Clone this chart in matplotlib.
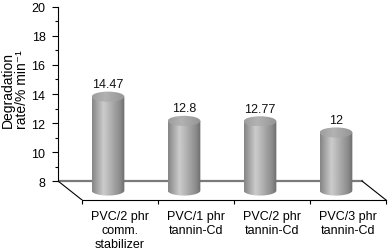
import numpy as np
import matplotlib.pyplot as plt
from matplotlib.patches import Polygon, Ellipse

plt.rcParams['font.family'] = ['Liberation Sans', 'DejaVu Sans']

categories = ['PVC/2 phr\ncomm.\nstabilizer', 'PVC/1 phr\ntannin-Cd',
              'PVC/2 phr\ntannin-Cd', 'PVC/3 phr\ntannin-Cd']
values = [14.47, 12.8, 12.77, 12]
value_labels = ['14.47', '12.8', '12.77', '12']

ymin, ymax = 8, 20
dx, dy = 0.316, 1.31      # depth offset of the floor (data units)
bar_w, ell_h = 0.43, 0.70  # cylinder width and ellipse height

fig = plt.figure(figsize=(3.88, 2.51), dpi=100)
ax = fig.add_axes([0.1495, 0.1992, 0.852, 0.7805])
ax.set_xlim(0, 4.35)
ax.set_ylim(ymin - dy, 20.2)

# floor
ax.fill([0, 4, 4 + dx, dx], [ymin, ymin, ymin - dy, ymin - dy],
        color='white', zorder=0)
ax.plot([0, 4], [ymin, ymin], color='#7a7a7a', lw=1.6, zorder=1)
ax.plot([0, dx], [ymin, ymin - dy], color='black', lw=0.8, zorder=1)
ax.plot([4, 4 + dx], [ymin, ymin - dy], color='black', lw=0.8, zorder=1)


def shade(n, stops, levels):
    s = np.linspace(0, 1, n)
    g = np.interp(s, stops, levels)
    return np.tile(g, (2, 1))


for i, v in enumerate(values):
    cx = i + 0.5 + dx / 2
    bot = ymin - dy / 2
    top = v - dy / 2
    x0, x1 = cx - bar_w / 2, cx + bar_w / 2
    t = np.linspace(np.pi, 2 * np.pi, 40)
    arc_x = cx + bar_w / 2 * np.cos(t)
    arc_y = bot + ell_h / 2 * np.sin(t)
    pts = [(x0, top)] + list(zip(arc_x, arc_y)) + [(x1, top)]
    body = Polygon(pts, closed=True, facecolor='none', edgecolor='none')
    ax.add_patch(body)
    im = ax.imshow(shade(100, [0, 0.35, 0.85, 1], [0.52, 0.80, 0.55, 0.42]),
                   cmap='gray', vmin=0, vmax=1, aspect='auto',
                   extent=[x0, x1, bot - ell_h / 2, top], zorder=3)
    im.set_clip_path(body)
    cap = Ellipse((cx, top), bar_w, ell_h, facecolor='none', edgecolor='none')
    ax.add_patch(cap)
    im2 = ax.imshow(shade(100, [0, 0.4, 1], [0.62, 0.70, 0.58]),
                    cmap='gray', vmin=0, vmax=1, aspect='auto',
                    extent=[x0, x1, top - ell_h / 2, top + ell_h / 2], zorder=4)
    im2.set_clip_path(cap)
    ax.text(cx, v + 0.22, value_labels[i], ha='center', va='center',
            fontsize=9, color='#111111', zorder=5)

ax.set_xlim(0, 4.35)
ax.set_ylim(ymin - dy, 20.2)

for s in ['top', 'right']:
    ax.spines[s].set_visible(False)
ax.spines['left'].set_bounds(ymin, ymax)
ax.spines['left'].set_linewidth(0.8)
ax.spines['bottom'].set_bounds(dx, 4 + dx)
ax.spines['bottom'].set_linewidth(0.8)

ax.set_yticks(range(8, 21, 2))
ax.set_yticks(range(9, 20, 2), minor=True)
ax.tick_params(axis='y', which='major', length=4, width=0.8, labelsize=9, pad=5)
ax.tick_params(axis='y', which='minor', length=2.5, width=0.8)

ax.set_xticks([i + 0.5 + dx for i in range(4)])
ax.set_xticklabels(categories, fontsize=9, linespacing=1.25)
ax.set_xticks([i + dx for i in range(5)], minor=True)
ax.tick_params(axis='x', which='major', length=0, pad=7)
ax.tick_params(axis='x', which='minor', length=3, width=0.8)

ax.set_ylabel('Degradation\nrate/% min⁻¹', fontsize=10, linespacing=1.0)
ax.yaxis.set_label_coords(-0.088, 0.567)

fig.savefig('out.png', dpi=100)
